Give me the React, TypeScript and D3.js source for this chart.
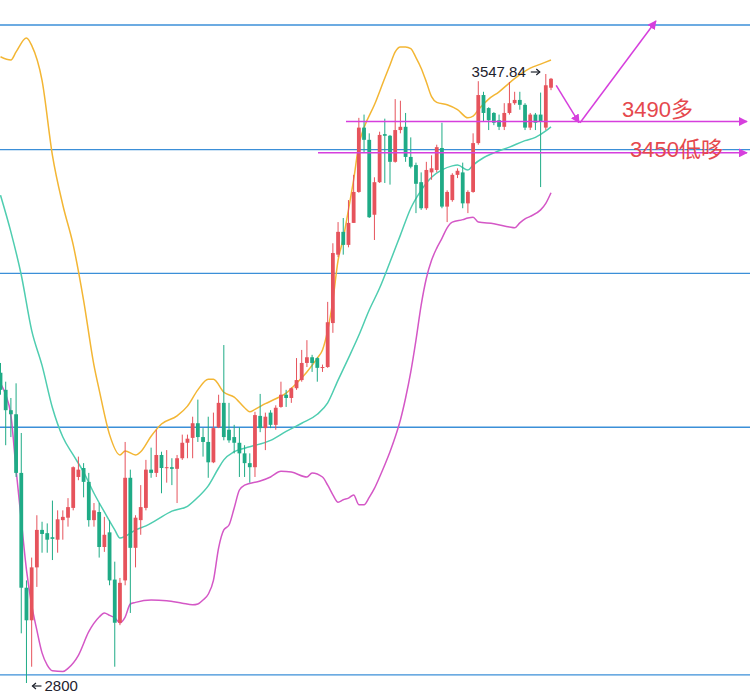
import React from 'react';
import * as d3 from 'd3';

// candle values, one entry per bar (index 0 = left edge)
const opens = [3181, 3160, 3135, 3130, 3058, 2917, 2877, 2942, 2988, 2984, 2979, 2976, 3000, 3003, 3015, 3053, 3064, 3047, 3000, 3010, 2967, 2985, 2927, 2874, 2926, 3052, 2966, 3000, 3015, 3062, 3058, 3080, 3064, 3065, 3063, 3076, 3095, 3101, 3119, 3102, 3096, 3071, 3114, 3144, 3111, 3102, 3095, 3082, 3070, 3065, 3128, 3113, 3132, 3117, 3139, 3154, 3150, 3162, 3172, 3193, 3200, 3199, 3187, 3188, 3242, 3326, 3354, 3338, 3365, 3403, 3482, 3467, 3375, 3415, 3474, 3472, 3440, 3479, 3483, 3446, 3436, 3415, 3383, 3427, 3430, 3457, 3385, 3393, 3424, 3427, 3389, 3403, 3463, 3522, 3506, 3500, 3491, 3483, 3500, 3512, 3516, 3510, 3482, 3498, 3498, 3482, 3531];
const highs = [3193, 3170, 3150, 3168, 3107, 2926, 2954, 3006, 2998, 2996, 3024, 3012, 3012, 3027, 3066, 3078, 3070, 3058, 3021, 3021, 3004, 3000, 2949, 2929, 3096, 3062, 3006, 3043, 3074, 3089, 3111, 3084, 3086, 3076, 3080, 3105, 3105, 3127, 3148, 3113, 3127, 3132, 3154, 3215, 3144, 3117, 3114, 3092, 3082, 3133, 3155, 3132, 3135, 3141, 3170, 3160, 3163, 3199, 3209, 3221, 3203, 3200, 3191, 3268, 3340, 3366, 3371, 3393, 3424, 3494, 3498, 3475, 3421, 3477, 3493, 3473, 3517, 3515, 3500, 3470, 3439, 3427, 3440, 3448, 3461, 3488, 3405, 3426, 3432, 3439, 3405, 3475, 3539, 3526, 3507, 3501, 3498, 3512, 3538, 3526, 3526, 3512, 3500, 3500, 3525, 3547.84, 3543];
const lows = [3154, 3092, 3102, 3053, 2861, 2800, 2820, 2918, 2960, 2960, 2951, 2960, 2976, 2992, 3012, 3049, 3028, 2992, 2992, 2954, 2961, 2920, 2820, 2871, 2920, 2886, 2942, 2982, 3012, 3052, 3053, 3033, 3046, 3043, 3021, 3074, 3076, 3076, 3096, 3078, 3052, 3070, 3113, 3098, 3095, 3082, 3053, 3053, 3046, 3053, 3108, 3086, 3113, 3111, 3138, 3139, 3144, 3160, 3170, 3188, 3182, 3170, 3182, 3187, 3230, 3323, 3326, 3335, 3365, 3402, 3452, 3371, 3344, 3414, 3414, 3412, 3439, 3475, 3440, 3432, 3377, 3381, 3381, 3418, 3427, 3383, 3366, 3391, 3420, 3383, 3377, 3402, 3461, 3489, 3479, 3485, 3479, 3479, 3498, 3510, 3504, 3479, 3479, 3479, 3409, 3479, 3528];
const closes = [3160, 3135, 3130, 3058, 2917, 2877, 2942, 2988, 2983, 2976, 2977, 3001, 3004, 3016, 3065, 3062, 3047, 3000, 3012, 2967, 2982, 2926, 2874, 2923, 3052, 2966, 3003, 3016, 3062, 3058, 3080, 3064, 3065, 3063, 3076, 3095, 3100, 3119, 3102, 3096, 3071, 3113, 3144, 3102, 3098, 3095, 3082, 3070, 3065, 3129, 3113, 3127, 3117, 3138, 3154, 3150, 3162, 3172, 3193, 3200, 3193, 3187, 3188, 3243, 3328, 3354, 3338, 3365, 3403, 3482, 3467, 3372, 3415, 3473, 3472, 3440, 3479, 3483, 3446, 3434, 3413, 3383, 3430, 3432, 3458, 3385, 3403, 3424, 3429, 3389, 3403, 3463, 3522, 3500, 3491, 3488, 3483, 3500, 3512, 3516, 3510, 3482, 3498, 3488, 3489, 3534, 3542];

// bollinger bands: [bar index, price]
const upperBand: [number, number][] = [
  [0, 3569], [2, 3565], [3, 3575], [5, 3592], [6, 3583], [8, 3540], [10, 3448], [12, 3387], [14, 3338], [16, 3270],
  [18, 3190], [19, 3160], [21, 3105], [23, 3080], [24, 3085], [26, 3080], [27, 3084], [29, 3103], [31, 3118], [34, 3128],
  [36, 3140], [38, 3160], [40, 3173], [41, 3173], [43, 3157], [45, 3151], [47, 3138], [48, 3133], [49, 3136], [51, 3143],
  [53, 3149], [55, 3156], [57, 3168], [59, 3182], [61, 3199], [62, 3209], [63, 3233], [64, 3270], [65, 3319], [66, 3346],
  [67, 3381], [68, 3418], [69, 3461], [70, 3482], [72, 3510], [74, 3543], [75, 3559], [76, 3575], [77, 3581], [78, 3581],
  [79, 3579], [80, 3568], [81, 3555], [82, 3538], [83, 3520], [84, 3513], [86, 3510], [88, 3504], [90, 3494], [91, 3496],
  [92, 3504], [94, 3517], [96, 3526], [98, 3537], [100, 3547], [102, 3555], [104, 3560], [106, 3565],
];
const middleBand: [number, number][] = [
  [0, 3399], [2, 3354], [4, 3301], [6, 3233], [8, 3190], [10, 3138], [12, 3102], [14, 3080], [16, 3059], [18, 3033],
  [20, 3010], [22, 2988], [23, 2978], [24, 2980], [26, 2988], [28, 2993], [30, 3000], [33, 3011], [36, 3017], [38, 3028],
  [40, 3042], [42, 3064], [43, 3074], [45, 3084], [48, 3090], [52, 3098], [55, 3109], [58, 3119], [61, 3130], [63, 3144],
  [65, 3172], [67, 3199], [69, 3227], [71, 3258], [73, 3285], [75, 3317], [77, 3350], [79, 3383], [81, 3405], [83, 3421],
  [85, 3430], [87, 3435], [88, 3436], [90, 3430], [91, 3436], [93, 3445], [95, 3451], [98, 3458], [101, 3466], [103, 3470],
  [105, 3478], [106, 3483],
];
const lowerBand: [number, number][] = [
  [0, 3168], [1, 3154], [2, 3129], [3, 3062], [4, 3000], [5, 2939], [6, 2896], [7, 2865], [8, 2837], [9, 2822],
  [10, 2815], [12, 2814], [13, 2818], [15, 2834], [17, 2863], [19, 2881], [20, 2886], [21, 2883], [22, 2880], [23, 2874],
  [24, 2881], [25, 2897], [26, 2899], [29, 2902], [32, 2901], [35, 2898], [37, 2896], [38, 2897], [39, 2902], [40, 2909],
  [41, 2926], [42, 2966], [43, 2988], [44, 2994], [45, 3015], [46, 3037], [47, 3043], [50, 3048], [52, 3053], [54, 3060],
  [56, 3059], [59, 3053], [60, 3058], [62, 3053], [63, 3043], [64, 3031], [65, 3022], [66, 3025], [67, 3027], [68, 3031],
  [69, 3019], [70, 3019], [71, 3028], [72, 3039], [73, 3053], [74, 3068], [75, 3084], [76, 3102], [77, 3123], [78, 3150],
  [79, 3182], [80, 3221], [81, 3264], [82, 3297], [83, 3319], [84, 3334], [85, 3346], [86, 3359], [87, 3366], [89, 3369],
  [90, 3371], [91, 3372], [92, 3366], [95, 3364], [98, 3360], [99, 3359], [100, 3365], [101, 3370], [102, 3373], [104, 3381],
  [105, 3389], [106, 3402],
];

// hand drawn levels
const blueLevels = [3608, 3455, 3303, 3114, 2810];
const drawnLevels = [
  { price: 3489.5, from: 346, label: '3490多', labelX: 622, dy: -5 },
  { price: 3451, from: 318, label: '3450低哆', labelX: 630, dy: 4 },
];
// the zig-zag arrow drawn after the last bar: [bars after end, price]
const forecast: [number, number][] = [[1, 3534], [5.4, 3488], [20.2, 3613]];

const highValue = 3547.84;
const lowValue = 2800;

const W = 750;
const H = 694;
const UP = '#e6535c';
const DOWN = '#1fab86';
const PINK = '#d63fdd';
const INK = '#1e222d';

// small pointer arrow, like the price markers in the original
const Pointer = ({ x0, x1, yy }: { x0: number; x1: number; yy: number }) => {
  const dir = x1 > x0 ? 1 : -1;
  return (
    <g stroke={INK} strokeWidth={1.2} fill="none">
      <line x1={x0} x2={x1} y1={yy} y2={yy} />
      <path d={`M${x1 - dir * 3.5},${yy - 3} L${x1},${yy} L${x1 - dir * 3.5},${yy + 3}`} />
    </g>
  );
};

export default function App() {
  const n = opens.length;
  const x = d3.scaleLinear().domain([0, n - 1]).range([0.5, 551]);
  const y = d3.scaleLinear().domain([lowValue, highValue]).range([683, 74]);
  const bw = 3.8;

  const band = d3.line<[number, number]>()
    .x(d => x(d[0]))
    .y(d => y(d[1]))
    .curve(d3.curveMonotoneX);

  const hiIdx = highs.indexOf(d3.max(highs) as number);
  const loIdx = lows.indexOf(d3.min(lows) as number);

  const fx = (d: [number, number]) => x(n - 1 + d[0]);

  return (
    <div style={{ position: 'absolute', left: 0, top: 0, width: W, height: H, background: '#fff' }}>
      <svg width={W} height={H} style={{ display: 'block', fontFamily: '"Liberation Sans", Arial, "Noto Sans CJK SC", sans-serif' }}>
        <defs>
          <marker id="ah" viewBox="0 0 10 10" refX="9" refY="5" markerWidth="6" markerHeight="6" orient="auto-start-reverse">
            <path d="M0,0 L10,5 L0,10 z" fill={PINK} />
          </marker>
        </defs>

        {blueLevels.map((p, i) => (
          <line key={i} x1={0} x2={W} y1={y(p)} y2={y(p)} stroke="#3b8fd8" strokeWidth={1.4} />
        ))}

        <path d={band(upperBand) || ''} fill="none" stroke="#f3b634" strokeWidth={1.5} />
        <path d={band(middleBand) || ''} fill="none" stroke="#4fcdb0" strokeWidth={1.5} />
        <path d={band(lowerBand) || ''} fill="none" stroke="#d457c6" strokeWidth={1.5} />

        {opens.map((o, i) => {
          const c = closes[i];
          const col = c >= o ? UP : DOWN;
          const top = y(Math.max(o, c));
          const h = Math.max(1, y(Math.min(o, c)) - top);
          return (
            <g key={i}>
              <line x1={x(i)} x2={x(i)} y1={y(highs[i])} y2={y(lows[i])} stroke={col} strokeWidth={1} />
              <rect x={x(i) - bw / 2} y={top} width={bw} height={h} fill={col} />
            </g>
          );
        })}

        {drawnLevels.map((d, i) => (
          <g key={i}>
            <line x1={d.from} x2={747} y1={y(d.price)} y2={y(d.price)} stroke={PINK} strokeWidth={1.5} markerEnd="url(#ah)" />
            <text x={d.labelX} y={y(d.price) + d.dy} fontSize={22} fill="#e5484d">{d.label}</text>
          </g>
        ))}

        <line x1={fx(forecast[0])} y1={y(forecast[0][1])} x2={fx(forecast[1])} y2={y(forecast[1][1])}
          stroke={PINK} strokeWidth={1.5} markerEnd="url(#ah)" />
        <line x1={fx(forecast[1]) + 1} y1={y(forecast[1][1])} x2={fx(forecast[2])} y2={y(forecast[2][1])}
          stroke={PINK} strokeWidth={1.5} markerEnd="url(#ah)" />

        <text x={x(hiIdx) - 20} y={y(highValue) + 3} fontSize={15} fill={INK} textAnchor="end">{highValue.toFixed(2)}</text>
        <Pointer x0={x(hiIdx) - 15} x1={x(hiIdx) - 6} yy={y(highValue) - 2} />

        <Pointer x0={x(loIdx) + 15} x1={x(loIdx) + 6} yy={y(lowValue) + 3} />
        <text x={x(loIdx) + 18} y={y(lowValue) + 8} fontSize={15} fill={INK}>{lowValue}</text>
      </svg>
    </div>
  );
}
